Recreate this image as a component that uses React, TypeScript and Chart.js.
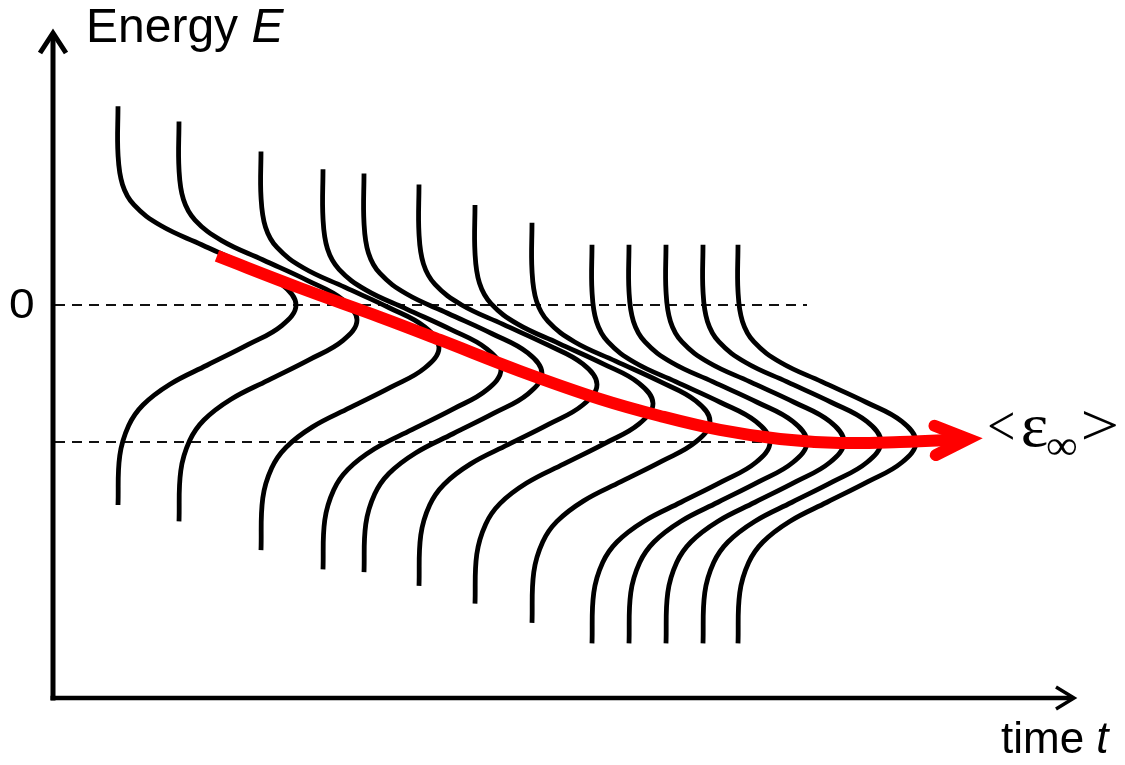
import React, { useEffect, useRef } from "react";
import { Chart, registerables } from "chart.js";

Chart.register(...registerables);

// ---- data (time t in arbitrary units, energy E in units of |<ε∞>|) ----
const T_MAX = 10.24;
const E_MIN = -2.869;
const E_MAX = 2.022;

// snapshots of the energy distribution: baseline time, top/peak/bottom energies
const CURVE_T0 = [0.65, 1.26, 2.08, 2.7, 3.11, 3.66, 4.22, 4.79, 5.39, 5.76, 6.13, 6.5, 6.85];
const CURVE_TOP_E = [1.45, 1.34, 1.12, 0.99, 0.96, 0.88, 0.73, 0.6, 0.44, 0.44, 0.44, 0.44, 0.44];
const CURVE_PEAK_E = [0, -0.11, -0.31, -0.47, -0.5, -0.58, -0.72, -0.85, -1, -1, -1, -1, -1];
const CURVE_BOTTOM_E = [-1.46, -1.58, -1.79, -1.93, -1.95, -2.05, -2.18, -2.32, -2.47, -2.47, -2.47, -2.47, -2.47];
const BUMP_HEIGHT_T = 1.78;
// shared distribution profile: energy offset from peak, relative bulge
const PROFILE_DE = [1.1, 0.88, 0.73, 0.58, 0.44, 0.29, 0.15, 0, -0.15, -0.29, -0.44, -0.58, -0.73, -0.88, -1.1];
const PROFILE_FRAC = [0, 0.025, 0.09, 0.24, 0.47, 0.72, 0.92, 1, 0.92, 0.73, 0.5, 0.29, 0.14, 0.06, 0.01];

// mean energy trajectory (red arrow)
const MEAN_T = [1.64, 2.47, 3.27, 3.87, 4.67, 5.47, 6.07, 6.67, 7.27, 7.87, 8.47, 9.15];
const MEAN_E = [0.358, 0.124, -0.088, -0.255, -0.482, -0.686, -0.81, -0.912, -0.978, -1.007, -1.0, -0.978];

// reference levels
const ZERO_E = 0;
const ZERO_LINE_T = [0.02, 7.54];
const EINF_E = -1;
const EINF_LINE_T = [0.02, 7.2];

const RED = "#ff0000";

function drawInk(ctx: CanvasRenderingContext2D, text: string, font: string, left: number, top: number, w: number, h: number) {
  ctx.font = font;
  ctx.textAlign = "left";
  ctx.textBaseline = "alphabetic";
  const m = ctx.measureText(text);
  const iw = m.actualBoundingBoxLeft + m.actualBoundingBoxRight;
  const ih = m.actualBoundingBoxAscent + m.actualBoundingBoxDescent;
  ctx.save();
  ctx.translate(left, top);
  ctx.scale(w / iw, h / ih);
  ctx.fillText(text, m.actualBoundingBoxLeft, m.actualBoundingBoxAscent);
  ctx.restore();
}

const decorPlugin = {
  id: "decor",
  afterDatasetsDraw(chart: any) {
    const { ctx, chartArea: a, scales } = chart;
    const ys = scales.y;
    ctx.save();

    // red arrow head at end of mean trajectory
    const pts = chart.getDatasetMeta(0).data;
    const p1 = pts[pts.length - 1];
    const p0 = pts[pts.length - 2];
    const ang = Math.atan2(p0.y - p1.y, p0.x - p1.x);
    const L = 36;
    const spread = (24 * Math.PI) / 180;
    ctx.strokeStyle = RED;
    ctx.lineWidth = 12;
    ctx.lineCap = "round";
    ctx.lineJoin = "miter";
    ctx.miterLimit = 10;
    ctx.beginPath();
    ctx.moveTo(p1.x + L * Math.cos(ang + spread), p1.y + L * Math.sin(ang + spread));
    ctx.lineTo(p1.x, p1.y);
    ctx.lineTo(p1.x + L * Math.cos(ang - spread), p1.y + L * Math.sin(ang - spread));
    ctx.stroke();

    // axes
    ctx.strokeStyle = "#000";
    ctx.lineCap = "butt";
    ctx.lineWidth = 5;
    ctx.beginPath();
    ctx.moveTo(a.left, a.bottom + 2.5);
    ctx.lineTo(a.left, a.top + 6);
    ctx.stroke();
    ctx.beginPath();
    ctx.moveTo(a.left - 13, a.top + 25);
    ctx.lineTo(a.left, a.top + 5);
    ctx.lineTo(a.left + 13, a.top + 25);
    ctx.stroke();

    ctx.lineWidth = 4.5;
    ctx.beginPath();
    ctx.moveTo(a.left - 2.5, a.bottom);
    ctx.lineTo(a.right - 4, a.bottom);
    ctx.stroke();
    ctx.lineWidth = 3.5;
    ctx.beginPath();
    ctx.moveTo(a.right - 21, a.bottom - 11);
    ctx.lineTo(a.right - 3, a.bottom);
    ctx.lineTo(a.right - 21, a.bottom + 11);
    ctx.stroke();

    // texts
    ctx.fillStyle = "#000";
    ctx.textAlign = "left";
    ctx.textBaseline = "alphabetic";
    ctx.font = '48px "Liberation Sans", Arial, sans-serif';
    const en = "Energy ";
    ctx.fillText(en, 86, 41.5);
    const enW = ctx.measureText(en).width;
    ctx.font = 'italic 48px "Liberation Sans", Arial, sans-serif';
    ctx.fillText("E", 86 + enW, 41.5);

    ctx.font = '44px "Liberation Sans", Arial, sans-serif';
    const tm = "time ";
    ctx.fillText(tm, 1001, 753);
    const tmW = ctx.measureText(tm).width;
    ctx.font = 'italic 44px "Liberation Sans", Arial, sans-serif';
    ctx.fillText("t", 1001 + tmW, 753);

    const y0 = ys.getPixelForValue(ZERO_E);
    drawInk(ctx, "0", '42px "Liberation Sans", Arial, sans-serif', 10, y0 - 16, 23, 29);

    const yi = ys.getPixelForValue(EINF_E);
    const serif = '56px "Liberation Serif", "Times New Roman", serif';
    drawInk(ctx, "<", serif, 989, yi - 31, 24, 29);
    drawInk(ctx, "ε", '60px "Liberation Serif", "Times New Roman", serif', 1023, yi - 25, 24, 30);
    drawInk(ctx, "∞", '46px "Liberation Serif", "DejaVu Serif", serif', 1047, yi - 4, 30, 17);
    drawInk(ctx, ">", serif, 1083, yi - 32, 33, 30);

    ctx.restore();
  },
};

export default function App() {
  const ref = useRef<HTMLCanvasElement | null>(null);

  useEffect(() => {
    if (!ref.current) return;

    const meanData = MEAN_T.map((t, i) => ({ x: t, y: MEAN_E[i] }));

    const curveSets = CURVE_T0.map((t0, i) => {
      const pts = [{ x: t0, y: CURVE_TOP_E[i] }];
      PROFILE_DE.forEach((de, k) => {
        pts.push({ x: t0 + BUMP_HEIGHT_T * PROFILE_FRAC[k], y: CURVE_PEAK_E[i] + de });
      });
      pts.push({ x: t0, y: CURVE_BOTTOM_E[i] });
      return {
        data: pts,
        showLine: true,
        borderColor: "#000",
        borderWidth: 4.8,
        tension: 0.4,
        pointRadius: 0,
        borderJoinStyle: "round" as const,
        borderCapStyle: "butt" as const,
      };
    });

    const dashed = (tRange: number[], e: number) => ({
      data: tRange.map((t) => ({ x: t, y: e })),
      showLine: true,
      borderColor: "#111",
      borderWidth: 2,
      borderDash: [10, 7],
      pointRadius: 0,
      tension: 0,
    });

    const chart = new Chart(ref.current, {
      type: "scatter",
      data: {
        datasets: [
          {
            data: meanData,
            showLine: true,
            borderColor: RED,
            borderWidth: 12,
            tension: 0.4,
            pointRadius: 0,
            borderCapStyle: "butt",
          } as any,
          ...curveSets,
          dashed(ZERO_LINE_T, ZERO_E),
          dashed(EINF_LINE_T, EINF_E),
        ],
      },
      options: {
        responsive: false,
        animation: false,
        devicePixelRatio: 1,
        events: [],
        layout: { padding: { left: 53, right: 48, top: 28, bottom: 67 } },
        scales: {
          x: { type: "linear", min: 0, max: T_MAX, display: false },
          y: { type: "linear", min: E_MIN, max: E_MAX, display: false },
        },
        plugins: {
          legend: { display: false },
          tooltip: { enabled: false },
          title: { display: false },
        },
      },
      plugins: [decorPlugin],
    });

    return () => chart.destroy();
  }, []);

  return (
    <div style={{ position: "absolute", left: 0, top: 0, width: 1125, height: 765, background: "#fff" }}>
      <canvas ref={ref} width={1125} height={765} style={{ display: "block", width: 1125, height: 765 }} />
    </div>
  );
}
